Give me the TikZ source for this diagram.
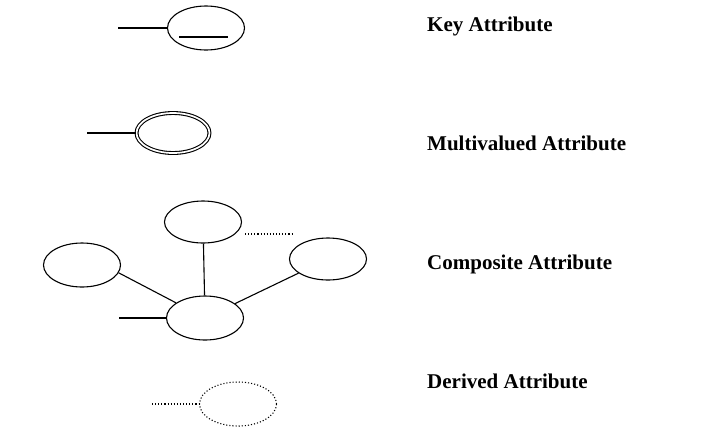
\documentclass[tikz,border=0pt]{standalone}
\usepackage{fontspec}
\setmainfont{Liberation Serif}
\usetikzlibrary{shapes.geometric}

\tikzset{
    attr node/.style={ellipse,draw,line width=1.1pt,minimum width=77pt,minimum height=44pt,inner sep=0},
    multi node/.style={attr node,double,double distance=1.7pt,line width=1.1pt,minimum width=73pt,minimum height=40pt},
    derived node/.style={attr node,dotted},
    thin/.style={line width=1.1pt},
    dots/.style={line width=1.1pt,dotted},
    label node/.style={anchor=base west,inner sep=0,font=\fontsize{21}{24}\selectfont\bfseries}
    }

\begin{document}
\begin{tikzpicture}[x=1pt,y=-1pt]
    \useasboundingbox (0,0) rectangle (725,440);
    % key attribute
    \node(key)[attr node] at (206,28) {};
    \coordinate(keyend) at (118,28);
    \draw[thin] (keyend) -- (key.west);
    \coordinate(ulA) at (179,37);
    \coordinate(ulB) at (228,37);
    \draw[thin] (ulA) -- (ulB);
    \node(keylabel)[label node] at (427,31) {Key Attribute};

    % multivalued attribute
    \node(multi)[multi node] at (173,133) {};
    \coordinate(multiend) at (87,133);
    \draw[thin] (multiend) -- (multi.west);
    \node(multilabel)[label node] at (427,150) {Multivalued Attribute};

    % composite attribute
    \node(comp)[attr node] at (205,318) {};
    \node(top)[attr node,minimum height=42pt] at (203,222) {};
    \node(left)[attr node] at (82,265) {};
    \node(right)[attr node,minimum height=42pt] at (328,259) {};
    \coordinate(compend) at (119,318);
    \draw[thin] (compend) -- (comp.west);
    \draw[thin] (top) -- (comp);
    \draw[thin] (left.-12) -- (comp);
    \draw[thin] (right) -- (comp);
    \coordinate(dotA) at (245,234);
    \coordinate(dotB) at (292,234);
    \draw[dots] (dotA) -- (dotB);
    \node(complabel)[label node] at (427,269) {Composite Attribute};

    % derived attribute
    \node(derived)[derived node] at (238,404) {};
    \coordinate(derivedend) at (152,404);
    \draw[dots] (derivedend) -- (derived.west);
    \node(derivedlabel)[label node] at (427,388) {Derived Attribute};
\end{tikzpicture}
\end{document}
